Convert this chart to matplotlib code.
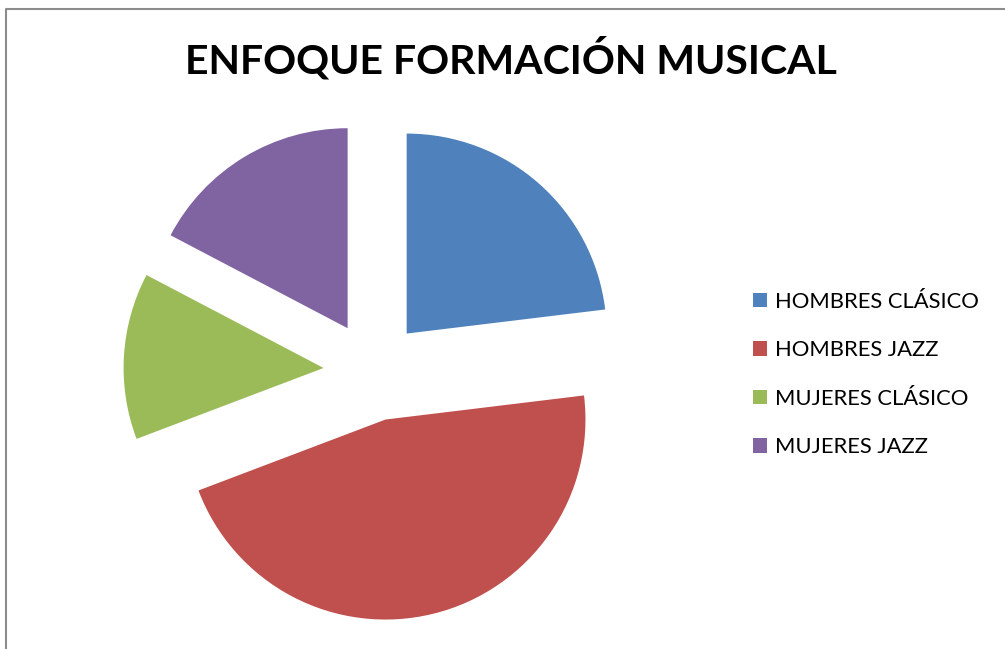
import matplotlib
matplotlib.use("Agg")
import matplotlib.pyplot as plt
from matplotlib.lines import Line2D

# data
categories = ["HOMBRES CLÁSICO", "HOMBRES JAZZ", "MUJERES CLÁSICO", "MUJERES JAZZ"]
values = [12, 24, 7, 9]
colors = ["#4F81BD", "#C0504D", "#9BBB59", "#8064A2"]
title = "ENFOQUE FORMACIÓN MUSICAL"

W, H = 1005, 649
fig = plt.figure(figsize=(W / 100, H / 100), dpi=100)
ax = fig.add_axes([0, 0, 1, 1])

# pie in pixel-like coords (y up)
wedges, _ = ax.pie(values, colors=colors, startangle=90, counterclock=False,
                   center=(373.5, H - 371), radius=200, explode=[50] * len(values),
                   wedgeprops=dict(linewidth=0))
ax.set_xlim(0, W)
ax.set_ylim(0, H)
ax.set_aspect("equal")
ax.axis("off")

# chart frame (only left and top edges are visible in the crop)
ax.add_line(Line2D([6, 6, W], [0, H - 8.5, H - 8.5], color="#8c8c8c", linewidth=1.5))

ax.text(511, H - 73.5, title, ha="center", va="baseline", fontsize=29.5,
        fontweight="bold", family="Lato")

leg = ax.legend(wedges, categories, loc="upper left", bbox_to_anchor=(744 / W, 1 - 283 / H),
                frameon=False, prop=dict(family="Lato", size=15.8),
                handlelength=0.65, handleheight=0.65, handletextpad=0.35,
                labelspacing=1.3, borderaxespad=0)

fig.savefig("out.png", dpi=100)
